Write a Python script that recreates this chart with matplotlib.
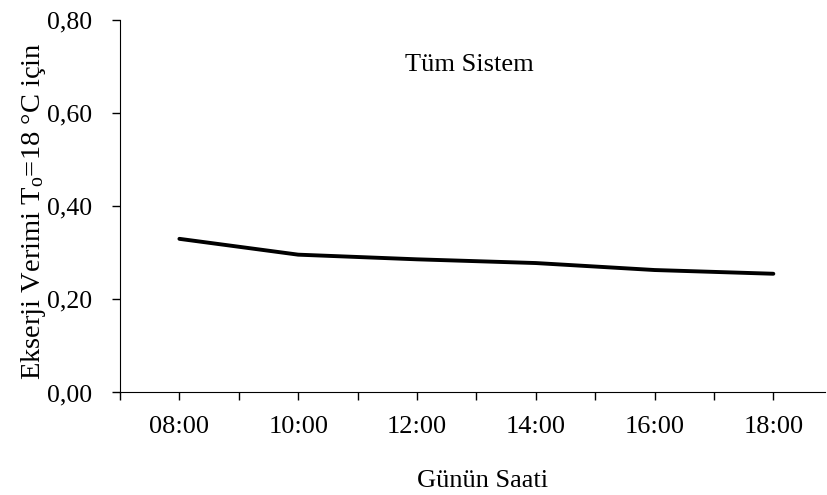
import matplotlib
matplotlib.use('Agg')
import matplotlib.pyplot as plt

# Data
hours = [8, 10, 12, 14, 16, 18]
labels = ["08:00", "10:00", "12:00", "14:00", "16:00", "18:00"]
verim = [0.330, 0.296, 0.286, 0.278, 0.263, 0.255]
yticks = [0.0, 0.2, 0.4, 0.6, 0.8]
ylabels = ["0,00", "0,20", "0,40", "0,60", "0,80"]

plt.rcParams['font.family'] = ['Liberation Serif', 'DejaVu Serif']
plt.rcParams['mathtext.fontset'] = 'custom'
plt.rcParams['mathtext.rm'] = 'Liberation Serif'
plt.rcParams['mathtext.it'] = 'Liberation Serif:italic'

fig = plt.figure(figsize=(8.27, 4.95), dpi=100)
ax = fig.add_axes([0.1451, 0.2071, 0.8525, 0.7525])

ax.plot(hours, verim, color='black', linewidth=2.8, solid_capstyle='round')

ax.set_xlim(7, 18.87)
ax.set_ylim(0, 0.8)

# hourly tick marks, labels every two hours
ax.set_xticks(list(range(7, 19)))
ax.set_xticklabels(["" if h not in hours else labels[hours.index(h)] for h in range(7, 19)])
ax.set_yticks(yticks)
ax.set_yticklabels(ylabels)

ax.tick_params(axis='x', direction='out', length=6, width=1, pad=11, labelsize=19)
ax.tick_params(axis='y', direction='out', length=6, width=1, pad=14, labelsize=18.5)

ax.spines['top'].set_visible(False)
ax.spines['right'].set_visible(False)

ax.text(0.496, 0.88, "Tüm Sistem", transform=ax.transAxes, ha='center', va='center', fontsize=19)

fig.text(0.583, 0.028, "Günün Saati", ha='center', va='center', fontsize=19)
fig.text(0.041, 0.574, "Ekserji Verimi T$_{\\mathrm{o}}$=18 °C için", rotation=90,
         ha='center', va='center', fontsize=20.5)

fig.savefig("out.png", dpi=100)
